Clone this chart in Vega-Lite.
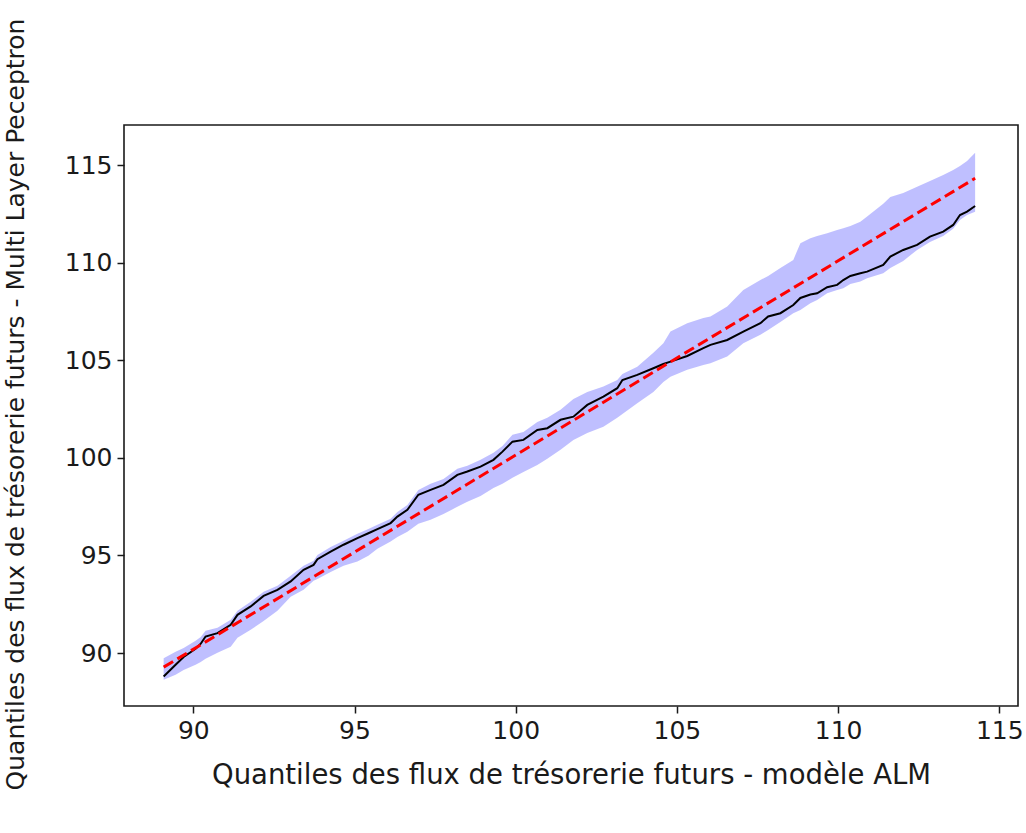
{
  "$schema": "https://vega.github.io/schema/vega-lite/v6.json",
  "width": 894,
  "height": 581,
  "autosize": {"type": "none"},
  "padding": {"left": 124, "top": 125, "right": 8, "bottom": 127},
  "background": "white",
  "config": {
    "font": "DejaVu Sans",
    "view": {"stroke": "#1a1a1a", "strokeWidth": 1.6},
    "axis": {
      "grid": false,
      "domain": false,
      "tickColor": "#1a1a1a",
      "tickWidth": 1.5,
      "tickSize": 7,
      "labelFont": "DejaVu Sans",
      "labelFontSize": 25,
      "labelColor": "#1a1a1a",
      "titleFont": "DejaVu Sans",
      "titleFontWeight": "normal",
      "titleColor": "#1a1a1a"
    }
  },
  "datasets": {
    "quantiles": [
      {"alm": 89.08, "mlp": 88.80, "lower": 88.63, "upper": 89.74},
      {"alm": 89.45, "mlp": 89.40, "lower": 88.89, "upper": 90.07},
      {"alm": 89.70, "mlp": 89.80, "lower": 89.14, "upper": 90.26},
      {"alm": 90.07, "mlp": 90.22, "lower": 89.40, "upper": 90.63},
      {"alm": 90.23, "mlp": 90.48, "lower": 89.55, "upper": 90.83},
      {"alm": 90.38, "mlp": 90.85, "lower": 89.71, "upper": 91.14},
      {"alm": 90.75, "mlp": 91.02, "lower": 90.02, "upper": 91.30},
      {"alm": 91.16, "mlp": 91.45, "lower": 90.32, "upper": 91.71},
      {"alm": 91.37, "mlp": 91.96, "lower": 90.78, "upper": 92.17},
      {"alm": 91.78, "mlp": 92.39, "lower": 91.19, "upper": 92.63},
      {"alm": 92.18, "mlp": 92.93, "lower": 91.65, "upper": 93.14},
      {"alm": 92.61, "mlp": 93.24, "lower": 92.17, "upper": 93.45},
      {"alm": 93.02, "mlp": 93.67, "lower": 92.88, "upper": 93.96},
      {"alm": 93.42, "mlp": 94.27, "lower": 93.24, "upper": 94.47},
      {"alm": 93.73, "mlp": 94.52, "lower": 93.70, "upper": 94.73},
      {"alm": 93.85, "mlp": 94.81, "lower": 93.80, "upper": 95.03},
      {"alm": 94.26, "mlp": 95.20, "lower": 94.16, "upper": 95.44},
      {"alm": 94.66, "mlp": 95.55, "lower": 94.47, "upper": 95.75},
      {"alm": 95.09, "mlp": 95.89, "lower": 94.69, "upper": 96.11},
      {"alm": 95.43, "mlp": 96.14, "lower": 94.98, "upper": 96.36},
      {"alm": 95.71, "mlp": 96.35, "lower": 95.34, "upper": 96.57},
      {"alm": 96.12, "mlp": 96.66, "lower": 95.71, "upper": 96.88},
      {"alm": 96.33, "mlp": 96.99, "lower": 95.95, "upper": 97.23},
      {"alm": 96.64, "mlp": 97.34, "lower": 96.21, "upper": 97.59},
      {"alm": 96.98, "mlp": 98.11, "lower": 96.62, "upper": 98.36},
      {"alm": 97.36, "mlp": 98.36, "lower": 96.83, "upper": 98.67},
      {"alm": 97.76, "mlp": 98.62, "lower": 97.13, "upper": 98.92},
      {"alm": 98.19, "mlp": 99.13, "lower": 97.49, "upper": 99.44},
      {"alm": 98.50, "mlp": 99.30, "lower": 97.75, "upper": 99.59},
      {"alm": 98.91, "mlp": 99.55, "lower": 98.05, "upper": 99.90},
      {"alm": 99.31, "mlp": 99.90, "lower": 98.46, "upper": 100.26},
      {"alm": 99.59, "mlp": 100.32, "lower": 98.67, "upper": 100.61},
      {"alm": 99.90, "mlp": 100.83, "lower": 98.98, "upper": 101.18},
      {"alm": 100.24, "mlp": 100.92, "lower": 99.28, "upper": 101.33},
      {"alm": 100.67, "mlp": 101.43, "lower": 99.64, "upper": 101.84},
      {"alm": 100.98, "mlp": 101.52, "lower": 99.95, "upper": 102.05},
      {"alm": 101.39, "mlp": 101.95, "lower": 100.41, "upper": 102.46},
      {"alm": 101.79, "mlp": 102.11, "lower": 100.92, "upper": 103.02},
      {"alm": 102.22, "mlp": 102.71, "lower": 101.28, "upper": 103.38},
      {"alm": 102.72, "mlp": 103.14, "lower": 101.60, "upper": 103.65},
      {"alm": 103.15, "mlp": 103.57, "lower": 102.05, "upper": 103.99},
      {"alm": 103.31, "mlp": 103.99, "lower": 102.25, "upper": 104.30},
      {"alm": 103.77, "mlp": 104.25, "lower": 102.80, "upper": 104.67},
      {"alm": 104.27, "mlp": 104.59, "lower": 103.38, "upper": 105.38},
      {"alm": 104.58, "mlp": 104.81, "lower": 103.89, "upper": 105.87},
      {"alm": 104.80, "mlp": 104.93, "lower": 104.16, "upper": 106.47},
      {"alm": 105.32, "mlp": 105.22, "lower": 104.51, "upper": 106.90},
      {"alm": 105.82, "mlp": 105.62, "lower": 104.76, "upper": 107.17},
      {"alm": 106.04, "mlp": 105.79, "lower": 104.85, "upper": 107.24},
      {"alm": 106.56, "mlp": 106.04, "lower": 105.19, "upper": 107.75},
      {"alm": 107.06, "mlp": 106.47, "lower": 105.87, "upper": 108.60},
      {"alm": 107.59, "mlp": 106.90, "lower": 106.30, "upper": 109.11},
      {"alm": 107.83, "mlp": 107.24, "lower": 106.55, "upper": 109.32},
      {"alm": 108.21, "mlp": 107.41, "lower": 106.96, "upper": 109.73},
      {"alm": 108.61, "mlp": 107.83, "lower": 107.41, "upper": 110.14},
      {"alm": 108.83, "mlp": 108.19, "lower": 107.58, "upper": 110.99},
      {"alm": 109.14, "mlp": 108.37, "lower": 107.92, "upper": 111.25},
      {"alm": 109.35, "mlp": 108.43, "lower": 108.09, "upper": 111.37},
      {"alm": 109.66, "mlp": 108.74, "lower": 108.43, "upper": 111.51},
      {"alm": 109.97, "mlp": 108.86, "lower": 108.60, "upper": 111.67},
      {"alm": 110.16, "mlp": 109.11, "lower": 108.69, "upper": 111.76},
      {"alm": 110.38, "mlp": 109.32, "lower": 108.91, "upper": 111.88},
      {"alm": 110.69, "mlp": 109.46, "lower": 109.03, "upper": 112.10},
      {"alm": 110.90, "mlp": 109.54, "lower": 109.20, "upper": 112.36},
      {"alm": 111.40, "mlp": 109.88, "lower": 109.46, "upper": 113.01},
      {"alm": 111.62, "mlp": 110.31, "lower": 109.73, "upper": 113.36},
      {"alm": 112.02, "mlp": 110.65, "lower": 110.09, "upper": 113.57},
      {"alm": 112.45, "mlp": 110.91, "lower": 110.65, "upper": 113.89},
      {"alm": 112.85, "mlp": 111.33, "lower": 111.06, "upper": 114.18},
      {"alm": 113.26, "mlp": 111.59, "lower": 111.37, "upper": 114.49},
      {"alm": 113.57, "mlp": 111.93, "lower": 111.73, "upper": 114.75},
      {"alm": 113.78, "mlp": 112.44, "lower": 112.19, "upper": 114.95},
      {"alm": 114.00, "mlp": 112.61, "lower": 112.44, "upper": 115.21},
      {"alm": 114.25, "mlp": 112.90, "lower": 112.61, "upper": 115.63}
    ],
    "diagonal": [
      {"alm": 89.08, "ref": 89.28},
      {"alm": 114.25, "ref": 114.32}
    ]
  },
  "encoding": {
    "x": {
      "type": "quantitative",
      "scale": {"domain": [87.85, 115.58], "nice": false, "zero": false},
      "axis": {
        "title": "Quantiles des flux de trésorerie futurs - modèle ALM",
        "titleFontSize": 27.5,
        "values": [90, 95, 100, 105, 110, 115],
        "format": "d",
        "labelPadding": 5,
        "titlePadding": 18
      }
    },
    "y": {
      "type": "quantitative",
      "scale": {"domain": [87.29, 117.05], "nice": false, "zero": false},
      "axis": {
        "title": "Quantiles des flux de trésorerie futurs - Multi Layer Peceptron",
        "titleFontSize": 25,
        "values": [90, 95, 100, 105, 110, 115],
        "format": "d",
        "labelPadding": 5,
        "titleX": -96,
        "titleY": 279
      }
    }
  },
  "layer": [
    {
      "data": {"name": "quantiles"},
      "mark": {"type": "area", "color": "#0000ff", "opacity": 0.25},
      "encoding": {
        "x": {"field": "alm"},
        "y": {"field": "lower"},
        "y2": {"field": "upper"}
      }
    },
    {
      "data": {"name": "quantiles"},
      "mark": {"type": "line", "color": "#000000", "strokeWidth": 2},
      "encoding": {
        "x": {"field": "alm"},
        "y": {"field": "mlp"}
      }
    },
    {
      "data": {"name": "diagonal"},
      "mark": {"type": "line", "color": "#ff0000", "strokeWidth": 3, "strokeDash": [11, 5]},
      "encoding": {
        "x": {"field": "alm"},
        "y": {"field": "ref"}
      }
    }
  ]
}
